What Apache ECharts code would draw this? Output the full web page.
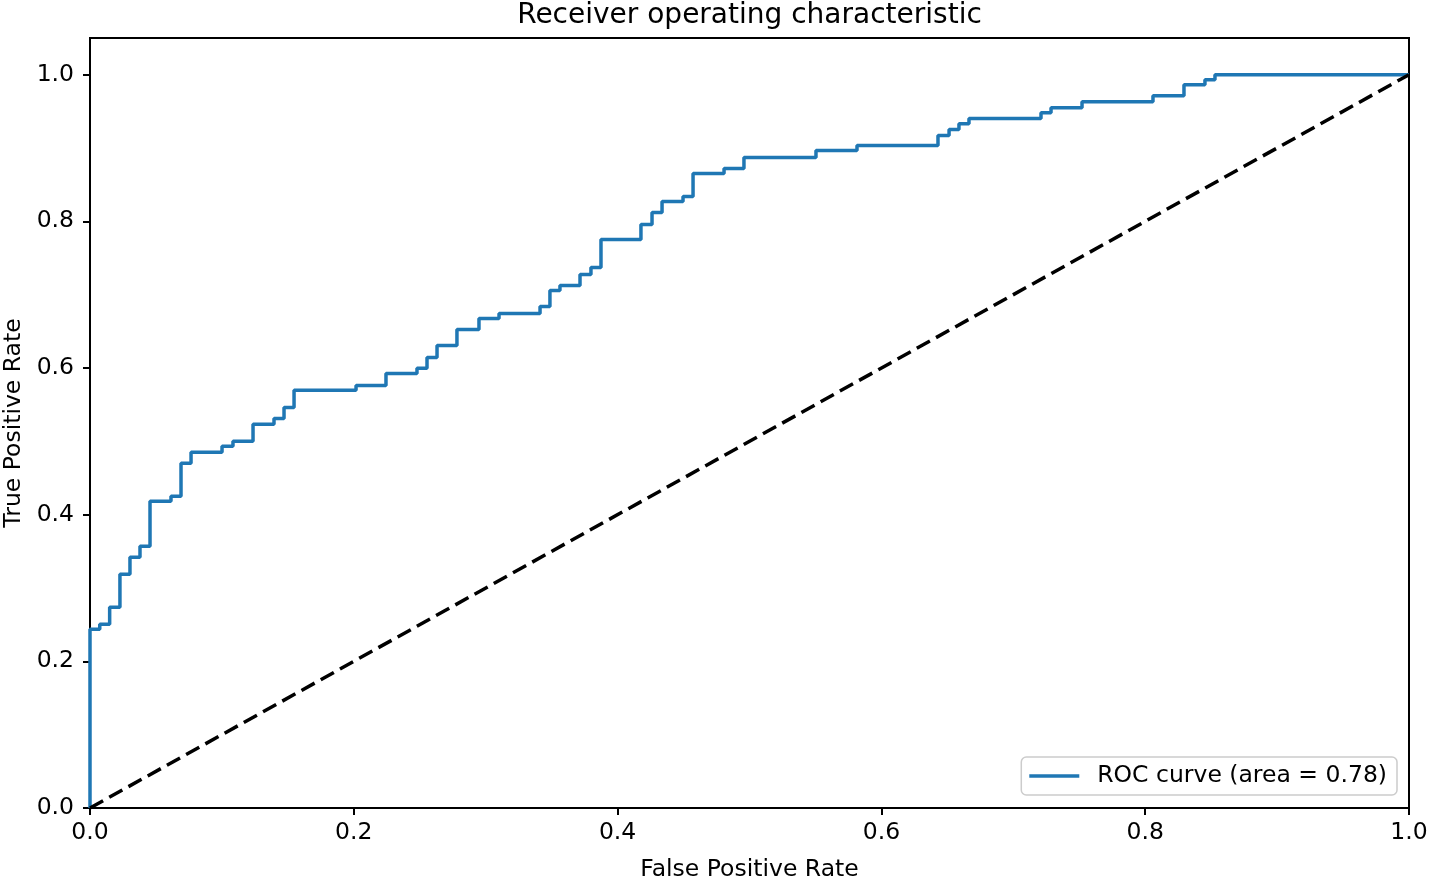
<!DOCTYPE html>
<html><head><meta charset="utf-8">
<script src="https://cdn.jsdelivr.net/npm/echarts@6/dist/echarts.min.js"></script>
<style>html,body{margin:0;padding:0;background:#fff}#c{width:1429px;height:880px}</style>
</head><body><div id="c"></div>
<script>
const chartTitle = 'Receiver operating characteristic';
const xName = 'False Positive Rate';
const yName = 'True Positive Rate';
const seriesName = 'ROC curve (area = 0.78)';
// false positive rate where each vertical step of the ROC curve occurs
const stepFpr = [0.0000, 0.0074, 0.0149, 0.0227, 0.0303, 0.0379, 0.0455, 0.0614, 0.0690, 0.0766,
  0.1001, 0.1084, 0.1236, 0.1395, 0.1471, 0.1547, 0.2017, 0.2244, 0.2479, 0.2555,
  0.2631, 0.2782, 0.2949, 0.3101, 0.3412, 0.3487, 0.3563, 0.3715, 0.3798, 0.3874,
  0.4177, 0.4261, 0.4337, 0.4496, 0.4572, 0.4807, 0.4958, 0.5504, 0.5815, 0.6429,
  0.6513, 0.6588, 0.6664, 0.7210, 0.7286, 0.7521, 0.8059, 0.8294, 0.8453, 0.8529, 1.0000];
// true positive rate reached after each step
const stepTpr = [0.2439, 0.2507, 0.2738, 0.3188, 0.3420, 0.3569, 0.4183, 0.4251, 0.4700, 0.4850,
  0.4932, 0.5000, 0.5232, 0.5313, 0.5463, 0.5695, 0.5763, 0.5926, 0.5995, 0.6144,
  0.6308, 0.6526, 0.6676, 0.6744, 0.6839, 0.7057, 0.7125, 0.7275, 0.7371, 0.7752,
  0.7956, 0.8120, 0.8270, 0.8338, 0.8651, 0.8719, 0.8869, 0.8965, 0.9033, 0.9169,
  0.9251, 0.9332, 0.9401, 0.9482, 0.9550, 0.9632, 0.9714, 0.9864, 0.9932, 1.0000, 1.0000];
const chanceX = [0, 1];
const chanceY = [0, 1];
const tickValues = [0, 0.2, 0.4, 0.6, 0.8, 1.0];

const FONT = 'DejaVu Sans';
const rocPoints = [[0, 0]];
let prev = 0;
for (let i = 0; i < stepFpr.length; i++) {
  rocPoints.push([stepFpr[i], prev]);
  rocPoints.push([stepFpr[i], stepTpr[i]]);
  prev = stepTpr[i];
}
const chancePoints = chanceX.map((x, i) => [x, chanceY[i]]);

const chart = echarts.init(document.getElementById('c'), null, {renderer: 'canvas'});
const axisCommon = {
  type: 'value',
  interval: 0.2,
  nameLocation: 'middle',
  nameTextStyle: {fontFamily: FONT, fontSize: 23.5, color: '#000'},
  axisLine: {show: true, lineStyle: {color: '#000', width: 2}},
  axisTick: {show: true, inside: false, length: 7, customValues: tickValues, lineStyle: {color: '#000', width: 2}},
  axisLabel: {fontFamily: FONT, fontSize: 23.5, color: '#000', customValues: tickValues,
    formatter: v => v.toFixed(1)},
  splitLine: {show: false}
};
chart.setOption({
  animation: false,
  backgroundColor: '#fff',
  title: {
    text: chartTitle, left: 749.5, textAlign: 'center', top: 2, padding: 0,
    textStyle: {fontFamily: FONT, fontSize: 28, fontWeight: 'normal', color: '#000'}
  },
  grid: {left: 90, right: 20, top: 38, bottom: 72, show: true, borderColor: '#000', borderWidth: 2,
    containLabel: false, outerBoundsMode: 'none'},
  xAxis: Object.assign({}, axisCommon, {
    min: 0, max: 1, name: xName, nameGap: 50,
    axisLabel: Object.assign({}, axisCommon.axisLabel, {margin: 13})
  }),
  yAxis: Object.assign({}, axisCommon, {
    min: 0, max: 1.05, name: yName, nameGap: 64,
    axisLabel: Object.assign({}, axisCommon.axisLabel, {margin: 16})
  }),
  legend: {
    data: [{name: seriesName, icon: 'rect'}],
    right: 32, bottom: 85,
    itemWidth: 50, itemHeight: 3.5,
    padding: [7, 10, 7, 8],
    backgroundColor: '#fff', borderColor: '#cccccc', borderWidth: 1.5, borderRadius: 5,
    textStyle: {fontFamily: FONT, fontSize: 23.5, color: '#000', padding: [0, 0, 0, 13]}
  },
  series: [
    {
      name: seriesName, type: 'line', data: rocPoints, showSymbol: false, symbol: 'none',
      lineStyle: {color: '#1f77b4', width: 3.5}, itemStyle: {color: '#1f77b4'}, z: 2
    },
    {
      name: 'chance', type: 'line', data: chancePoints, showSymbol: false, symbol: 'none',
      lineStyle: {color: '#000', width: 3.5, type: [15, 7]}, z: 3
    }
  ]
});
</script></body></html>
